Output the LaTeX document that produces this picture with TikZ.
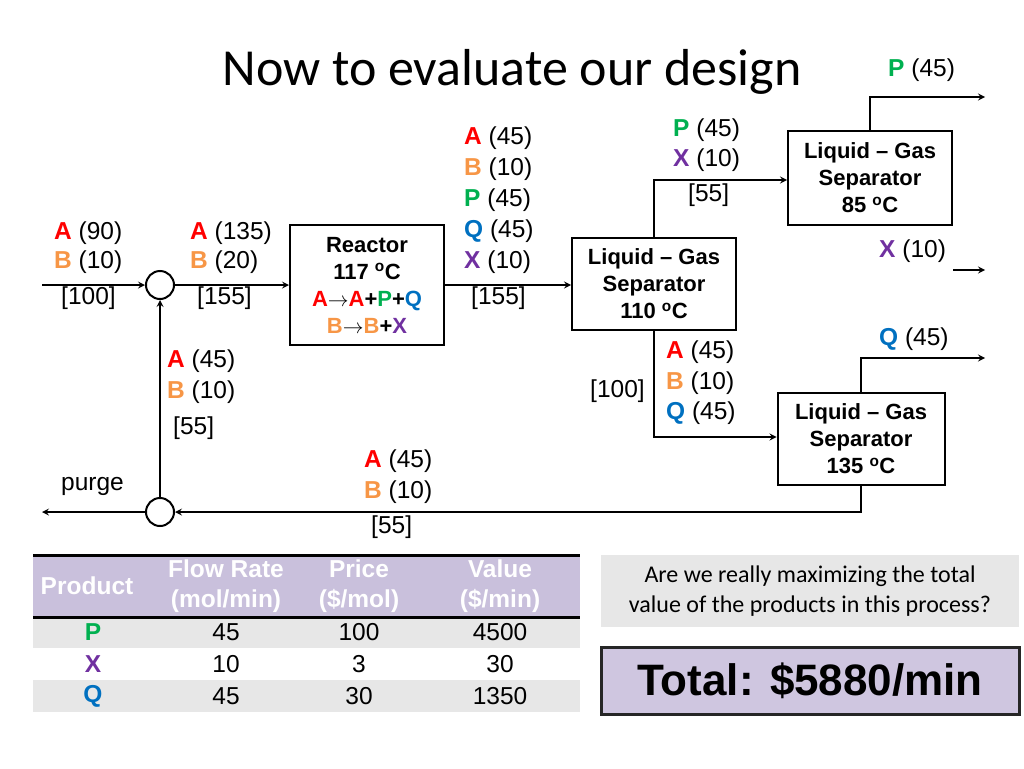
\documentclass[tikz,border=0pt]{standalone}
\usepackage{fontspec}
\setmainfont{Liberation Sans}
\newfontfamily\calfont{Carlito}
\definecolor{cA}{HTML}{FF0000}
\definecolor{cB}{HTML}{F79646}
\definecolor{cP}{HTML}{00B050}
\definecolor{cQ}{HTML}{0070C0}
\definecolor{cX}{HTML}{7030A0}
\definecolor{hdr}{HTML}{C9C0DC}
\definecolor{rowg}{HTML}{E7E7E7}
\definecolor{tot}{HTML}{CFC6E0}
\newcommand{\LA}{\textbf{\textcolor{cA}{A}}}
\newcommand{\LB}{\textbf{\textcolor{cB}{B}}}
\newcommand{\LP}{\textbf{\textcolor{cP}{P}}}
\newcommand{\LQ}{\textbf{\textcolor{cQ}{Q}}}
\newcommand{\LX}{\textbf{\textcolor{cX}{X}}}
\begin{document}
\begin{tikzpicture}[x=1pt,y=-1pt,
  lbl/.style={anchor=west,inner sep=0,font=\fontsize{24.5}{26}\selectfont},
  box/.style={draw,line width=2pt,align=center,inner sep=0,font=\bfseries\fontsize{22}{27}\selectfont},
  mix/.style={draw,line width=2pt,circle,minimum size=28pt,inner sep=0},
  arr/.style={line width=2pt,->,>=stealth},
  ln/.style={line width=2pt}]
\useasboundingbox (0,0) rectangle (1024,768);
\node[font=\calfont\fontsize{52}{56}\selectfont] (title) at (512,72) {Now to evaluate our design};
% nodes
\node[mix] (m1) at (160,285) {};
\node[mix] (m2) at (160,512) {};
\node[box,minimum width=154pt,minimum height=120pt] (r) at (367,285) {Reactor\\117 \textsuperscript{o}C\\\textcolor{cA}{A}$\rightarrow$\textcolor{cA}{A}+\textcolor{cP}{P}+\textcolor{cQ}{Q}\\\textcolor{cB}{B}$\rightarrow$\textcolor{cB}{B}+\textcolor{cX}{X}};
\node[box,minimum width=164pt,minimum height=92pt] (s1) at (654,284) {Liquid -- Gas\\Separator\\110 \textsuperscript{o}C};
\node[box,minimum width=164pt,minimum height=94pt] (s2) at (870,178) {Liquid -- Gas\\Separator\\85 \textsuperscript{o}C};
\node[box,minimum width=167pt,minimum height=92pt] (s3) at (861,439) {Liquid -- Gas\\Separator\\135 \textsuperscript{o}C};
\coordinate (in) at (42,285);
\coordinate (pg) at (42,512);
\coordinate (oP) at (985,97);
\coordinate (oX) at (985,270);
\coordinate (oQ) at (985,358);
% connectors
\draw[arr] (in) -- (m1);
\draw[arr] (m1) -- (r.west|-m1);
\draw[arr] (r.east|-m1) -- (s1.west|-m1);
\draw[arr] (s1.north) |- (s2.west|-0,180);
\draw[arr] (s2.north) |- (oP);
\draw[arr] (s2.east|-oX) -- (oX);
\draw[arr] (s1.south) |- (s3.west|-0,437);
\draw[arr] (s3.north) |- (oQ);
\draw[arr] (s3.south) |- (m2);
\draw[arr] (m2) -- (pg);
\draw[arr] (m2) -- (m1);
% labels
\node[lbl] at (54,233) {\LA\ (90)};
\node[lbl] at (54,262) {\LB\ (10)};
\node[lbl] at (61,298) {[100]};
\node[lbl] at (190,233) {\LA\ (135)};
\node[lbl] at (190,262) {\LB\ (20)};
\node[lbl] at (197,298) {[155]};
\node[lbl] at (464,138) {\LA\ (45)};
\node[lbl] at (464,169) {\LB\ (10)};
\node[lbl] at (464,200) {\LP\ (45)};
\node[lbl] at (464,231) {\LQ\ (45)};
\node[lbl] at (464,262) {\LX\ (10)};
\node[lbl] at (471,298) {[155]};
\node[lbl] at (673,130) {\LP\ (45)};
\node[lbl] at (673,160) {\LX\ (10)};
\node[lbl] at (688,195) {[55]};
\node[lbl] at (888,70) {\LP\ (45)};
\node[lbl] at (879,251) {\LX\ (10)};
\node[lbl] at (879,339) {\LQ\ (45)};
\node[lbl] at (666,352) {\LA\ (45)};
\node[lbl] at (666,383) {\LB\ (10)};
\node[lbl] at (666,413) {\LQ\ (45)};
\node[lbl] at (590,391) {[100]};
\node[lbl] at (167,361) {\LA\ (45)};
\node[lbl] at (167,392) {\LB\ (10)};
\node[lbl] at (173,428) {[55]};
\node[lbl] at (364,461) {\LA\ (45)};
\node[lbl] at (364,492) {\LB\ (10)};
\node[lbl] at (371,527) {[55]};
\node[lbl] at (61,486) {purge};
% table
\fill[hdr] (33,555) rectangle (580,617);
\fill[rowg] (33,617) rectangle (580,648);
\fill[rowg] (33,680) rectangle (580,712);
\draw[line width=3pt] (33,555) -- (580,555);
\draw[line width=3pt] (33,617) -- (580,617);
\begin{scope}[every node/.style={font=\fontsize{24.5}{30}\selectfont,align=center}]
\node[text=white,font=\bfseries\fontsize{24.5}{30}\selectfont] (h1) at (87,586) {Product};
\node[text=white,font=\bfseries\fontsize{24.5}{30}\selectfont] (h2) at (226,586) {Flow Rate\\(mol/min)};
\node[text=white,font=\bfseries\fontsize{24.5}{30}\selectfont] (h3) at (359,586) {Price\\(\$/mol)};
\node[text=white,font=\bfseries\fontsize{24.5}{30}\selectfont] (h4) at (500,586) {Value\\(\$/min)};
\node (p1) at (93,632) {\LP}; \node (p2) at (226,632) {45}; \node (p3) at (359,632) {100}; \node (p4) at (500,632) {4500};
\node (x1) at (93,664) {\LX}; \node (x2) at (226,664) {10}; \node (x3) at (359,664) {3}; \node (x4) at (500,664) {30};
\node (q1) at (93,696) {\LQ}; \node (q2) at (226,696) {45}; \node (q3) at (359,696) {30}; \node (q4) at (500,696) {1350};
\end{scope}
\node[fill=rowg,minimum width=418pt,minimum height=72pt,align=center,inner sep=0,font=\calfont\fontsize{24}{30}\selectfont] (qn) at (810,591) {Are we really maximizing the total\\value of the products in this process?};
\node[fill=tot,draw=black!85,line width=3pt,minimum width=418pt,minimum height=67pt,inner sep=0,font=\bfseries\fontsize{44}{48}\selectfont] (tb) at (810,681) {Total: \$5880/min};
\end{tikzpicture}
\end{document}
